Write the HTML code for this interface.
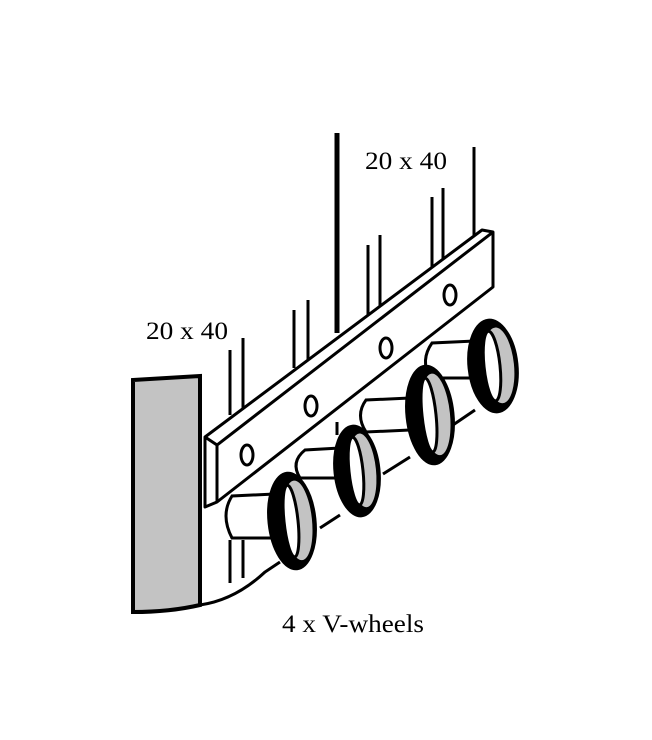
<!DOCTYPE html>
<html><head><meta charset="utf-8"><style>html,body{margin:0;padding:0;background:#fff}svg{display:block}</style></head>
<body>
<svg width="652" height="740" viewBox="0 0 652 740" xmlns="http://www.w3.org/2000/svg">
<rect width="652" height="740" fill="#fff"/>
<g font-family="'Liberation Serif', serif" font-size="25" fill="#000">
<text x="365" y="169" textLength="82" lengthAdjust="spacingAndGlyphs">20 x 40</text>
<text x="146" y="339" textLength="82" lengthAdjust="spacingAndGlyphs">20 x 40</text>
<text x="282" y="632" textLength="142" lengthAdjust="spacingAndGlyphs">4 x V-wheels</text>
</g>
<g stroke="#000" fill="none" stroke-linecap="butt">
<line x1="337" y1="133" x2="337" y2="333" stroke-width="5"/>
<line x1="230" y1="350" x2="230" y2="415" stroke-width="3"/>
<line x1="243" y1="338" x2="243" y2="410" stroke-width="3"/>
<line x1="294" y1="310" x2="294" y2="368" stroke-width="3"/>
<line x1="308" y1="300" x2="308" y2="360" stroke-width="3"/>
<line x1="368" y1="245" x2="368" y2="318" stroke-width="3"/>
<line x1="380" y1="235" x2="380" y2="310" stroke-width="3"/>
<line x1="432" y1="197" x2="432" y2="268" stroke-width="3"/>
<line x1="443" y1="188" x2="443" y2="262" stroke-width="3"/>
<line x1="474" y1="147" x2="474" y2="235" stroke-width="3"/>
<path d="M133,380 L200,376 L200,605 Q170,612 133,612 Z" fill="#c3c3c3" stroke-width="4"/>
<path d="M200,605 Q235,600 265,572 L280,562" stroke-width="3"/>
<line x1="320" y1="528" x2="340" y2="515" stroke-width="3"/>
<line x1="383" y1="474" x2="410" y2="457" stroke-width="3"/>
<line x1="450" y1="427" x2="475" y2="410" stroke-width="3"/>
<line x1="230" y1="540" x2="230" y2="583" stroke-width="3"/>
<line x1="243" y1="540" x2="243" y2="578" stroke-width="3"/>
<line x1="337" y1="422" x2="337" y2="435" stroke-width="3"/>
<path d="M275,494 L232,496 Q220,515 232,538 L275,538" fill="#fff" stroke-width="3"/>
<path d="M340,448 L305,450 Q290,462 300,478 L340,478" fill="#fff" stroke-width="3"/>
<path d="M410,398 L366,400 Q355,415 366,432 L410,430" fill="#fff" stroke-width="3"/>
<path d="M475,341 L432,343 Q420,360 430,378 L475,378" fill="#fff" stroke-width="3"/>
<path d="M205,437 L482,230 L493,232 L493,287 L217,502 L205,507 Z" fill="#fff" stroke-width="3" stroke-linejoin="round"/>
<line x1="205" y1="437" x2="217" y2="445" stroke-width="3"/>
<line x1="217" y1="445" x2="493" y2="232" stroke-width="3"/>
<line x1="217" y1="445" x2="217" y2="502" stroke-width="3"/>
<ellipse cx="247" cy="455" rx="6" ry="10" stroke-width="3" fill="#fff"/>
<ellipse cx="311" cy="406" rx="6" ry="10" stroke-width="3" fill="#fff"/>
<ellipse cx="386" cy="348" rx="6" ry="10" stroke-width="3" fill="#fff"/>
<ellipse cx="450" cy="295" rx="6" ry="10" stroke-width="3" fill="#fff"/>
</g>
<g stroke="#000">
<g transform="translate(292,521) rotate(-6)">
<ellipse rx="24" ry="49" fill="#000"/><ellipse cx="6" rx="14" ry="40" fill="#c3c3c3" stroke="none"/><ellipse cx="-1" rx="7" ry="36" fill="#fff" stroke-width="3"/></g>
<g transform="translate(357,471) rotate(-6)">
<ellipse rx="23" ry="46" fill="#000"/><ellipse cx="6" rx="13" ry="37" fill="#c3c3c3" stroke="none"/><ellipse cx="-1" rx="7" ry="34" fill="#fff" stroke-width="3"/></g>
<g transform="translate(430,415) rotate(-6)">
<ellipse rx="24" ry="50" fill="#000"/><ellipse cx="6" rx="14" ry="41" fill="#c3c3c3" stroke="none"/><ellipse cx="-1" rx="7" ry="37" fill="#fff" stroke-width="3"/></g>
<g transform="translate(493,366) rotate(-6)">
<ellipse rx="25" ry="47" fill="#000"/><ellipse cx="6" rx="15" ry="38" fill="#c3c3c3" stroke="none"/><ellipse cx="-1" rx="8" ry="35" fill="#fff" stroke-width="3"/></g>
</g>
</svg>
</body></html>
